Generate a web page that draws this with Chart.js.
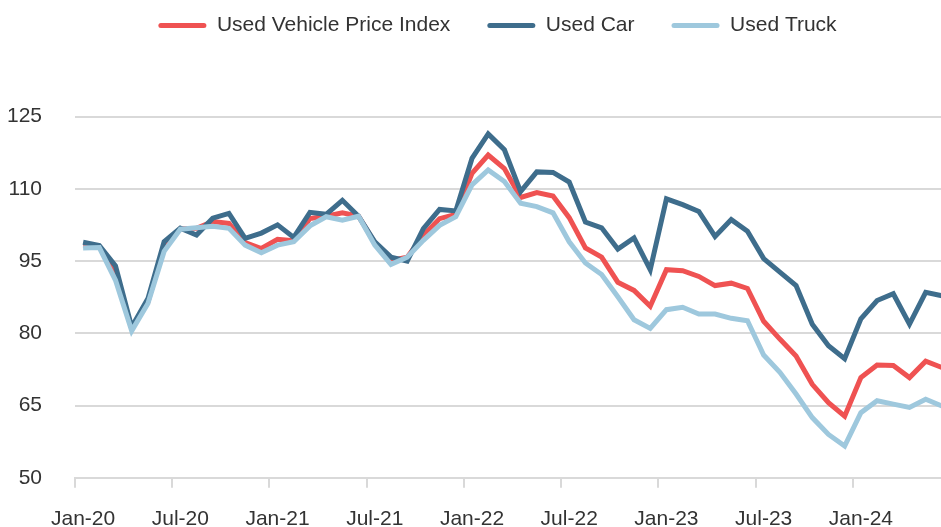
<!DOCTYPE html>
<html>
<head>
<meta charset="utf-8">
<script src="https://cdn.jsdelivr.net/npm/chart.js@4/dist/chart.umd.min.js"></script>
<style>
  html, body { margin: 0; padding: 0; background: #fff; overflow: hidden; }
  #wrap { width: 961px; height: 527px; position: relative; }
</style>
</head>
<body>
<div id="wrap"><canvas id="chart_line"></canvas></div>
<script>
// months, Jan-20 .. Jun-24
var months = [
  'Jan-20','Feb-20','Mar-20','Apr-20','May-20','Jun-20','Jul-20','Aug-20','Sep-20','Oct-20','Nov-20','Dec-20',
  'Jan-21','Feb-21','Mar-21','Apr-21','May-21','Jun-21','Jul-21','Aug-21','Sep-21','Oct-21','Nov-21','Dec-21',
  'Jan-22','Feb-22','Mar-22','Apr-22','May-22','Jun-22','Jul-22','Aug-22','Sep-22','Oct-22','Nov-22','Dec-22',
  'Jan-23','Feb-23','Mar-23','Apr-23','May-23','Jun-23','Jul-23','Aug-23','Sep-23','Oct-23','Nov-23','Dec-23',
  'Jan-24','Feb-24','Mar-24','Apr-24','May-24','Jun-24'
]

var vehicleIndex = [
  98.3, 98.0, 92.5, 81.0, 86.5, 98.0, 101.7, 101.8, 103.2, 102.8, 98.8, 97.6,
  99.5, 99.2, 103.8, 104.3, 105.0, 104.3, 98.8, 95.1, 95.8, 100.3, 103.8, 104.7,
  113.2, 117.0, 114.2, 108.2, 109.2, 108.5, 104.0, 97.7, 95.8, 90.6, 88.9, 85.6,
  93.2, 93.0, 91.8, 89.9, 90.4, 89.3, 82.5, 78.8, 75.3, 69.4, 65.6, 62.8,
  70.8, 73.4, 73.3, 70.8, 74.2, 72.9
]

var usedCar = [
  98.9, 98.2, 94.0, 81.3, 87.2, 99.0, 101.8, 100.4, 103.9, 104.9, 99.7, 100.8,
  102.5, 99.9, 105.1, 104.7, 107.6, 104.3, 99.0, 95.8, 95.0, 101.7, 105.7, 105.4,
  116.3, 121.4, 118.1, 109.4, 113.5, 113.4, 111.4, 103.1, 101.9, 97.5, 99.8, 93.2,
  107.9, 106.7, 105.3, 100.1, 103.6, 101.2, 95.5, 92.7, 89.9, 81.9, 77.4, 74.7,
  83.0, 86.8, 88.2, 81.9, 88.5, 87.8
]

var usedTruck = [
  97.7, 97.8, 91.0, 80.5, 86.2, 97.0, 101.6, 101.9, 102.2, 101.8, 98.3, 96.7,
  98.3, 99.0, 102.3, 104.2, 103.5, 104.3, 98.3, 94.3, 95.8, 99.3, 102.4, 104.2,
  110.8, 113.9, 111.5, 107.0, 106.3, 105.0, 99.0, 94.6, 92.2, 87.6, 82.8, 81.0,
  84.9, 85.4, 84.0, 84.0, 83.1, 82.6, 75.5, 71.9, 67.4, 62.5, 59.0, 56.6,
  63.5, 66.0, 65.3, 64.6, 66.3, 64.9
]

var yTicks = [50, 65, 80, 95, 110, 125]

var gridGray = '#d9d9d9'
var textGray = '#333333'

Chart.defaults.font.family = '"Liberation Sans", Arial, sans-serif'
Chart.defaults.font.size = 21
Chart.defaults.color = textGray

// extra room under the legend, and nudge it a bit to the left
var legendGap = {
  id: 'legendGap',
  beforeInit: function(chart){
    var fit = chart.legend.fit
    chart.legend.fit = function(){
      fit.call(this)
      this.height += 70.5
    }
  },
  afterLayout: function(chart){
    chart.legend.left -= 15
    chart.legend.right -= 15
  }
}

var ctx = document.getElementById("chart_line");
var myChart = new Chart(ctx, {
  type: 'line',
  data: {
    labels: months,
    datasets: [{
      label: 'Used Vehicle Price Index',
      data: vehicleIndex,
      borderColor: '#ef5252',
      backgroundColor: '#ef5252',
      order: 3
    }, {
      label: 'Used Car',
      data: usedCar,
      borderColor: '#3e6d8c',
      backgroundColor: '#3e6d8c',
      order: 2
    }, {
      label: 'Used Truck',
      data: usedTruck,
      borderColor: '#9ec8dd',
      backgroundColor: '#9ec8dd',
      order: 1
    }]
  },
  options: {
    responsive: true,
    maintainAspectRatio: false,
    animation: false,
    layout: { padding: { top: -22, left: 0, right: 0, bottom: -24 } },
    elements: {
      line: { borderWidth: 5, tension: 0 },
      point: { radius: 0 }
    },
    plugins: {
      tooltip: { enabled: false },
      legend: {
        position: 'top',
        fullSize: false,
        labels: {
          boxWidth: 48,
          boxHeight: 5,
          padding: 37,
          color: textGray,
          generateLabels: function(chart){
            var items = Chart.defaults.plugins.legend.labels.generateLabels(chart)
            items.sort(function(a, b){ return a.datasetIndex - b.datasetIndex })
            items.forEach(function(it){
              it.fillStyle = it.strokeStyle
              it.lineWidth = 0
              it.borderRadius = 2.5
            })
            return items
          }
        }
      }
    },
    scales: {
      x: {
        offset: true,
        border: { color: gridGray, width: 2 },
        grid: {
          offset: true,
          drawOnChartArea: false,
          drawTicks: true,
          tickLength: 10,
          lineWidth: 2,
          color: function(c){ return c.index % 6 === 0 ? gridGray : 'rgba(0,0,0,0)' }
        },
        ticks: {
          autoSkip: false,
          maxRotation: 0,
          padding: 19,
          callback: function(v, i){ return i % 6 === 0 ? months[i] : '' }
        }
      },
      y: {
        min: yTicks[0],
        max: yTicks[yTicks.length - 1],
        border: { display: false },
        grid: { color: gridGray, lineWidth: 2, drawTicks: false },
        afterBuildTicks: function(s){
          s.ticks = yTicks.map(function(v){ return { value: v } })
        },
        afterFit: function(s){ s.width = 75 },
        ticks: { padding: 33 }
      }
    }
  },
  plugins: [legendGap]
});
</script>
</body>
</html>
